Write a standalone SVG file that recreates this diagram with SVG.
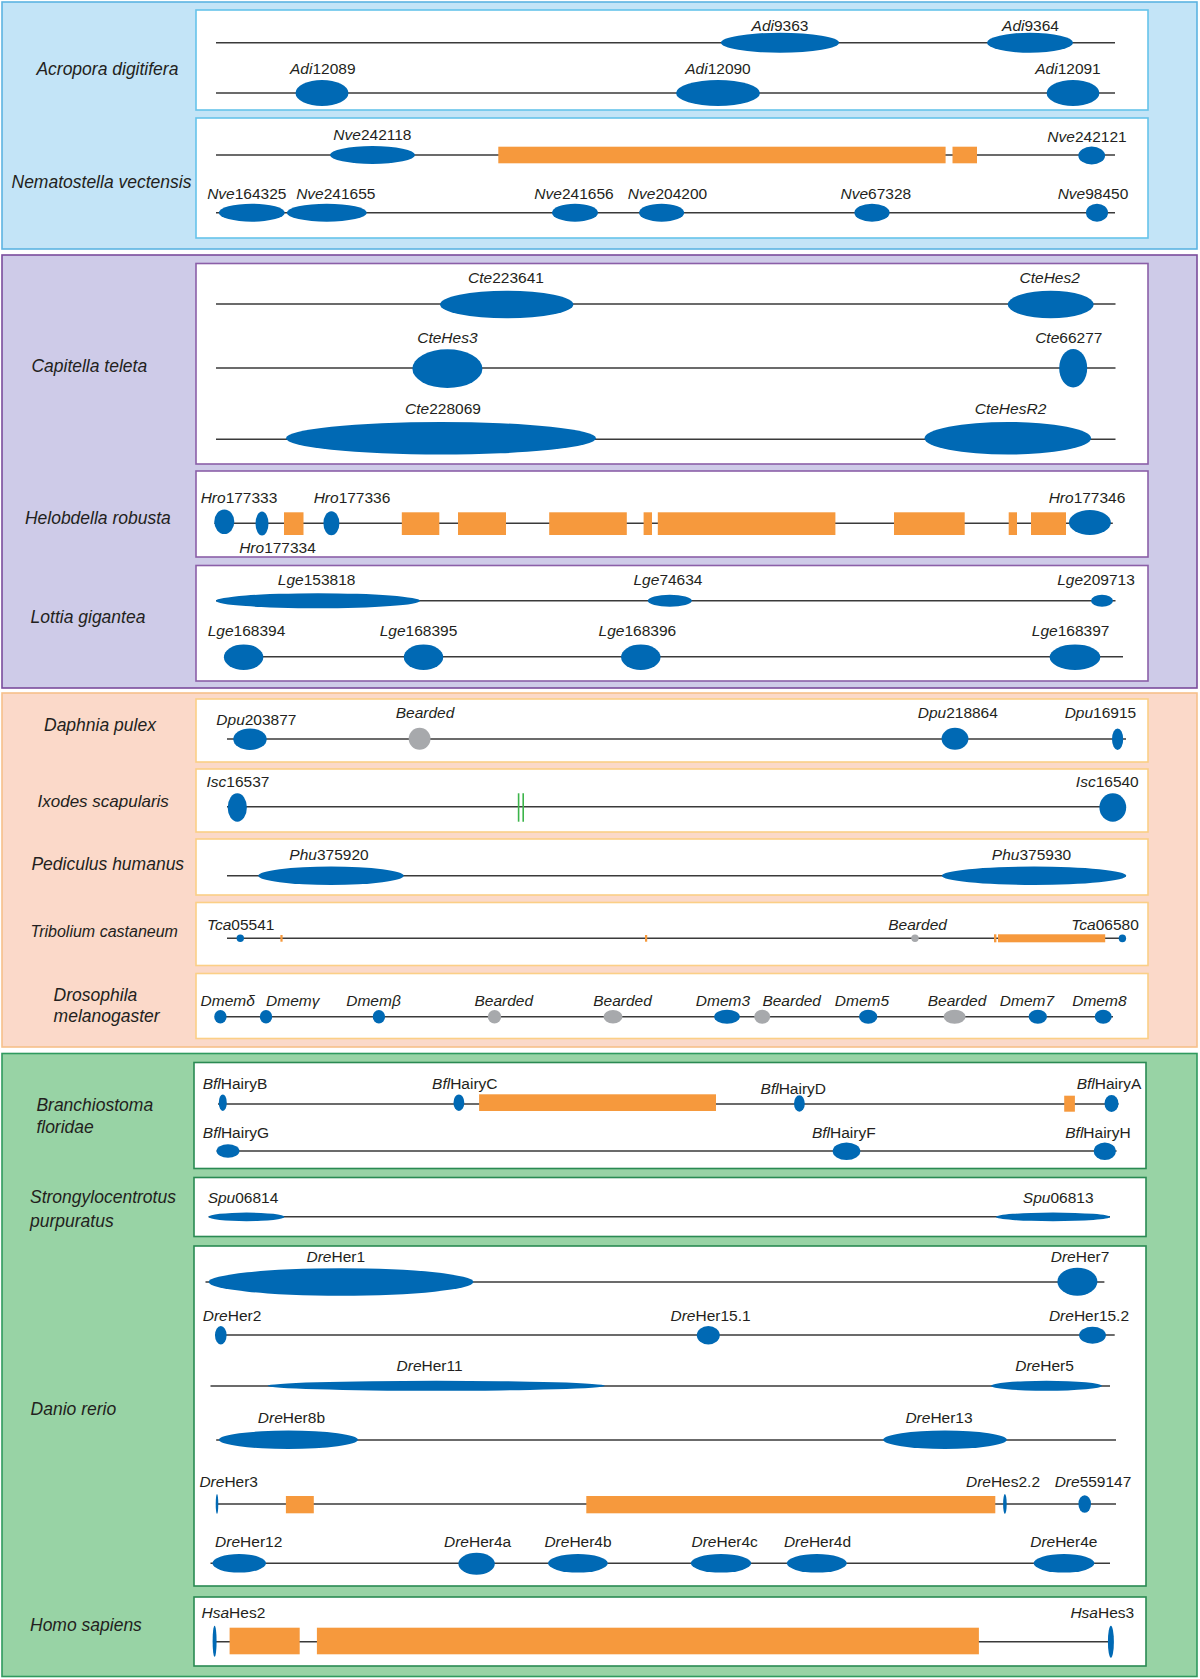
<svg xmlns="http://www.w3.org/2000/svg" width="1200" height="1679" viewBox="0 0 1200 1679">
<style>
text{font-family:"Liberation Sans",Arial,sans-serif;fill:#231f20}
.l{font-size:15.5px;text-anchor:middle}
.sp{font-size:17.5px;font-style:italic}
i,.it{font-style:italic}
.b{fill:#0069b4}
.o{fill:#f6993d}
.gr{fill:#a7a9ac}
.ln{stroke:#3a3a3a;stroke-width:1.4;fill:none}
.p1{fill:#c3e4f7;stroke:#5cb3e1;stroke-width:1.6}
.i1{fill:#fff;stroke:#66c3ea;stroke-width:1.6}
.p2{fill:#cecbe8;stroke:#7b4c9c;stroke-width:1.6}
.i2{fill:#fff;stroke:#8b5fa8;stroke-width:1.6}
.p3{fill:#fbd9c9;stroke:#f7c08a;stroke-width:1.6}
.i3{fill:#fff;stroke:#fbcf86;stroke-width:1.6}
.p4{fill:#98d3a5;stroke:#2f9a5e;stroke-width:1.6}
.i4{fill:#fff;stroke:#2a8a53;stroke-width:1.6}
</style>
<g id="panels">
<rect class="p1" x="2" y="2" width="1195" height="247"/>
<rect class="i1" x="196" y="10" width="952" height="100"/>
<rect class="i1" x="196" y="118" width="952" height="120"/>
<rect class="p2" x="2" y="255" width="1195" height="433"/>
<rect class="i2" x="196" y="263.5" width="952" height="200.5"/>
<rect class="i2" x="196" y="471" width="952" height="86"/>
<rect class="i2" x="196" y="565.5" width="952" height="115.5"/>
<rect class="p3" x="2" y="693" width="1195" height="354"/>
<rect class="i3" x="196" y="699" width="952" height="63"/>
<rect class="i3" x="196" y="769" width="952" height="63"/>
<rect class="i3" x="196" y="839" width="952" height="56"/>
<rect class="i3" x="196" y="902.5" width="952" height="63"/>
<rect class="i3" x="196" y="973.5" width="952" height="65"/>
<rect class="p4" x="2" y="1053.5" width="1195" height="623"/>
<rect class="i4" x="194" y="1062.5" width="952" height="106"/>
<rect class="i4" x="194" y="1177.5" width="952" height="59"/>
<rect class="i4" x="194" y="1246" width="952" height="340"/>
<rect class="i4" x="194" y="1597" width="952" height="69"/>
</g>
<g id="species">
<text class="sp" x="36.4" y="75.3">Acropora digitifera</text>
<text class="sp" x="11.5" y="187.7">Nematostella vectensis</text>
<text class="sp" x="31.4" y="372">Capitella teleta</text>
<text class="sp" x="24.9" y="524">Helobdella robusta</text>
<text class="sp" x="30.6" y="623">Lottia gigantea</text>
<text class="sp" x="44" y="731">Daphnia pulex</text>
<text class="sp" x="37.5" y="806.7" style="font-size:17px">Ixodes scapularis</text>
<text class="sp" x="31.4" y="870">Pediculus humanus</text>
<text class="sp" x="30.6" y="936.7" style="font-size:16px">Tribolium castaneum</text>
<text class="sp" x="53.6" y="1000.7">Drosophila</text>
<text class="sp" x="53.6" y="1022.3">melanogaster</text>
<text class="sp" x="36.4" y="1110.7">Branchiostoma</text>
<text class="sp" x="36.4" y="1133.3">floridae</text>
<text class="sp" x="30" y="1203.3">Strongylocentrotus</text>
<text class="sp" x="30" y="1226.7">purpuratus</text>
<text class="sp" x="30.6" y="1415">Danio rerio</text>
<text class="sp" x="30" y="1630.7">Homo sapiens</text>
</g>
<g id="connectors" class="ln">
<line x1="216" y1="42.7" x2="1115" y2="42.7"/>
<line x1="216" y1="93" x2="1115" y2="93"/>
<line x1="216" y1="155" x2="1115" y2="155"/>
<line x1="216" y1="212.7" x2="1115" y2="212.7"/>
<line x1="216" y1="304" x2="1115.5" y2="304"/>
<line x1="216" y1="368" x2="1115.5" y2="368"/>
<line x1="216" y1="439.3" x2="1115.5" y2="439.3"/>
<line x1="214.3" y1="523.3" x2="1112.8" y2="523.3"/>
<line x1="216" y1="600.7" x2="1115.5" y2="600.7"/>
<line x1="224" y1="656.7" x2="1123" y2="656.7"/>
<line x1="227" y1="739" x2="1126" y2="739"/>
<line x1="227" y1="806.7" x2="1126" y2="806.7"/>
<line x1="227" y1="875.7" x2="1126" y2="875.7"/>
<line x1="227" y1="938.3" x2="1122" y2="938.3"/>
<line x1="216" y1="1016.7" x2="1113" y2="1016.7"/>
<line x1="218" y1="1104" x2="1118.6" y2="1104"/>
<line x1="216.6" y1="1151" x2="1116.6" y2="1151"/>
<line x1="208.6" y1="1216.7" x2="1110" y2="1216.7"/>
<line x1="205.5" y1="1282" x2="1104.4" y2="1282"/>
<line x1="215" y1="1335" x2="1114.7" y2="1335"/>
<line x1="210.5" y1="1386" x2="1110" y2="1386"/>
<line x1="216.2" y1="1440" x2="1116" y2="1440"/>
<line x1="216.6" y1="1504" x2="1116" y2="1504"/>
<line x1="210.5" y1="1563.3" x2="1110" y2="1563.3"/>
<line x1="215" y1="1641.7" x2="1111" y2="1641.7"/>
</g>
<g id="blocks">
<rect class="o" x="498.3" y="146.7" width="447.3" height="16.6"/>
<rect class="o" x="952.5" y="146.7" width="24.5" height="16.6"/>
<rect class="o" x="284" y="512.3" width="19.5" height="22.7"/>
<rect class="o" x="401.8" y="512.3" width="37.5" height="22.7"/>
<rect class="o" x="458" y="512.3" width="48" height="22.7"/>
<rect class="o" x="549.2" y="512.3" width="77.6" height="22.7"/>
<rect class="o" x="643.6" y="512.3" width="8.4" height="22.7"/>
<rect class="o" x="657.8" y="512.3" width="177.6" height="22.7"/>
<rect class="o" x="894" y="512.3" width="70.7" height="22.7"/>
<rect class="o" x="1008.7" y="512.3" width="8.3" height="22.7"/>
<rect class="o" x="1031" y="512.3" width="35" height="22.7"/>
<rect class="o" x="280.4" y="935" width="2.2" height="6.7"/>
<rect class="o" x="645" y="935" width="2.2" height="6.7"/>
<rect class="o" x="994" y="934.3" width="2.4" height="8"/>
<rect class="o" x="998" y="934.3" width="107.2" height="8"/>
<rect class="o" x="479.1" y="1094.3" width="236.9" height="16.7"/>
<rect class="o" x="1064.2" y="1095.7" width="10.7" height="16"/>
<rect class="o" x="285.9" y="1496" width="27.9" height="17.3"/>
<rect class="o" x="586.3" y="1496" width="409" height="17.3"/>
<rect class="o" x="229.6" y="1627.7" width="70.1" height="26.6"/>
<rect class="o" x="316.9" y="1627.7" width="662" height="26.6"/>
<line x1="518.6" y1="793.3" x2="518.6" y2="821.7" stroke="#3cb44a" stroke-width="1.6"/>
<line x1="523.2" y1="793.3" x2="523.2" y2="821.7" stroke="#3cb44a" stroke-width="1.6"/>
</g>
<g id="genes">
<g id="Adi9363"><ellipse class="b" cx="780" cy="42.7" rx="59" ry="10"/><text class="l" x="780" y="30.7"><tspan class="it">Adi</tspan>9363</text></g>
<g id="Adi9364"><ellipse class="b" cx="1030" cy="42.7" rx="43" ry="10"/><text class="l" x="1030.5" y="30.7"><tspan class="it">Adi</tspan>9364</text></g>
<g id="Adi12089"><ellipse class="b" cx="322" cy="93" rx="26.5" ry="13"/><text class="l" x="322.8" y="74"><tspan class="it">Adi</tspan>12089</text></g>
<g id="Adi12090"><ellipse class="b" cx="718" cy="93" rx="42" ry="13"/><text class="l" x="718" y="74"><tspan class="it">Adi</tspan>12090</text></g>
<g id="Adi12091"><ellipse class="b" cx="1073" cy="93" rx="26.4" ry="13"/><text class="l" x="1068" y="74"><tspan class="it">Adi</tspan>12091</text></g>
<g id="Nve242118"><ellipse class="b" cx="372.5" cy="155" rx="42.5" ry="9"/><text class="l" x="372.4" y="140"><tspan class="it">Nve</tspan>242118</text></g>
<g id="Nve242121"><ellipse class="b" cx="1091.7" cy="155.5" rx="13.4" ry="9"/><text class="l" x="1087" y="141.7"><tspan class="it">Nve</tspan>242121</text></g>
<g id="Nve164325"><ellipse class="b" cx="251.8" cy="212.7" rx="33" ry="9"/><text class="l" x="246.8" y="199.3"><tspan class="it">Nve</tspan>164325</text></g>
<g id="Nve241655"><ellipse class="b" cx="326.8" cy="212.7" rx="40" ry="9"/><text class="l" x="335.8" y="199.3"><tspan class="it">Nve</tspan>241655</text></g>
<g id="Nve241656"><ellipse class="b" cx="575" cy="212.7" rx="23" ry="9"/><text class="l" x="574" y="199.3"><tspan class="it">Nve</tspan>241656</text></g>
<g id="Nve204200"><ellipse class="b" cx="661.6" cy="212.7" rx="22.6" ry="9"/><text class="l" x="667.5" y="199.3"><tspan class="it">Nve</tspan>204200</text></g>
<g id="Nve67328"><ellipse class="b" cx="872" cy="212.7" rx="17.6" ry="9"/><text class="l" x="875.8" y="199.3"><tspan class="it">Nve</tspan>67328</text></g>
<g id="Nve98450"><ellipse class="b" cx="1097" cy="212.7" rx="11" ry="9"/><text class="l" x="1093" y="199.3"><tspan class="it">Nve</tspan>98450</text></g>
<g id="Cte223641"><ellipse class="b" cx="506.7" cy="304.5" rx="66.7" ry="13.8"/><text class="l" x="506" y="283.3"><tspan class="it">Cte</tspan>223641</text></g>
<g id="CteHes2"><ellipse class="b" cx="1050.7" cy="304.5" rx="43" ry="13.8"/><text class="l it" x="1049.7" y="283.3">CteHes2</text></g>
<g id="CteHes3"><ellipse class="b" cx="447.4" cy="368.7" rx="35" ry="19.4"/><text class="l it" x="447.4" y="342.7">CteHes3</text></g>
<g id="Cte66277"><ellipse class="b" cx="1073.2" cy="368.2" rx="14" ry="19.2"/><text class="l" x="1068.8" y="342.7"><tspan class="it">Cte</tspan>66277</text></g>
<g id="Cte228069"><ellipse class="b" cx="441" cy="438.3" rx="155" ry="16.3"/><text class="l" x="443" y="414.3"><tspan class="it">Cte</tspan>228069</text></g>
<g id="CteHesR2"><ellipse class="b" cx="1007.8" cy="438.3" rx="83.3" ry="16.3"/><text class="l it" x="1010.5" y="414.3">CteHesR2</text></g>
<g id="Hro177333"><ellipse class="b" cx="224.3" cy="521.7" rx="10" ry="12.3"/><text class="l" x="239" y="503.3"><tspan class="it">Hro</tspan>177333</text></g>
<g id="Hro177334"><ellipse class="b" cx="262" cy="523.5" rx="6.5" ry="12"/><text class="l" x="277.5" y="552.7"><tspan class="it">Hro</tspan>177334</text></g>
<g id="Hro177336"><ellipse class="b" cx="331.4" cy="523.3" rx="8" ry="12"/><text class="l" x="352" y="503.3"><tspan class="it">Hro</tspan>177336</text></g>
<g id="Hro177346"><ellipse class="b" cx="1089.9" cy="522.5" rx="21" ry="12.5"/><text class="l" x="1087" y="503.3"><tspan class="it">Hro</tspan>177346</text></g>
<g id="Lge153818"><ellipse class="b" cx="318" cy="600.8" rx="102" ry="7.5"/><text class="l" x="316.6" y="585"><tspan class="it">Lge</tspan>153818</text></g>
<g id="Lge74634"><ellipse class="b" cx="669.8" cy="600.8" rx="22" ry="6"/><text class="l" x="668" y="585"><tspan class="it">Lge</tspan>74634</text></g>
<g id="Lge209713"><ellipse class="b" cx="1102" cy="600.8" rx="11" ry="6"/><text class="l" x="1096" y="585"><tspan class="it">Lge</tspan>209713</text></g>
<g id="Lge168394"><ellipse class="b" cx="243.6" cy="657.2" rx="19.7" ry="12.8"/><text class="l" x="246.5" y="635.7"><tspan class="it">Lge</tspan>168394</text></g>
<g id="Lge168395"><ellipse class="b" cx="423.5" cy="657.2" rx="19.7" ry="12.8"/><text class="l" x="418.5" y="635.7"><tspan class="it">Lge</tspan>168395</text></g>
<g id="Lge168396"><ellipse class="b" cx="640.8" cy="657.2" rx="19.7" ry="12.8"/><text class="l" x="637.4" y="635.7"><tspan class="it">Lge</tspan>168396</text></g>
<g id="Lge168397"><ellipse class="b" cx="1075" cy="657.2" rx="25.3" ry="12.8"/><text class="l" x="1070.6" y="635.7"><tspan class="it">Lge</tspan>168397</text></g>
<g id="Dpu203877"><ellipse class="b" cx="250" cy="739.2" rx="16.7" ry="10.8"/><text class="l" x="256.4" y="725"><tspan class="it">Dpu</tspan>203877</text></g>
<g id="Bearded-Dpu"><ellipse class="gr" cx="419.6" cy="738.8" rx="10.9" ry="11"/><text class="l it" x="425" y="718.3">Bearded</text></g>
<g id="Dpu218864"><ellipse class="b" cx="955" cy="738.8" rx="13.4" ry="11"/><text class="l" x="957.8" y="718.3"><tspan class="it">Dpu</tspan>218864</text></g>
<g id="Dpu16915"><ellipse class="b" cx="1117.6" cy="739.2" rx="5.6" ry="10.8"/><text class="l" x="1100.4" y="718.3"><tspan class="it">Dpu</tspan>16915</text></g>
<g id="Isc16537"><ellipse class="b" cx="237.3" cy="807.5" rx="9.6" ry="14.2"/><text class="l" x="238" y="786.7"><tspan class="it">Isc</tspan>16537</text></g>
<g id="Isc16540"><ellipse class="b" cx="1112.8" cy="807.5" rx="13.4" ry="14.2"/><text class="l" x="1107.3" y="786.7"><tspan class="it">Isc</tspan>16540</text></g>
<g id="Phu375920"><ellipse class="b" cx="331" cy="875.8" rx="72.7" ry="9.2"/><text class="l" x="329" y="860"><tspan class="it">Phu</tspan>375920</text></g>
<g id="Phu375930"><ellipse class="b" cx="1034" cy="875.8" rx="92.2" ry="9.2"/><text class="l" x="1031.5" y="860"><tspan class="it">Phu</tspan>375930</text></g>
<g id="Tca05541"><ellipse class="b" cx="240.3" cy="938.3" rx="3.7" ry="3.7"/><text class="l" x="240.7" y="930"><tspan class="it">Tca</tspan>05541</text></g>
<g id="Bearded-Tca"><ellipse class="gr" cx="915" cy="938.3" rx="3.7" ry="3.7"/><text class="l it" x="917.6" y="930">Bearded</text></g>
<g id="Tca06580"><ellipse class="b" cx="1122.4" cy="938.3" rx="3.7" ry="3.9"/><text class="l" x="1105" y="930"><tspan class="it">Tca</tspan>06580</text></g>
<g id="Dmem-delta"><ellipse class="b" cx="220.4" cy="1016.7" rx="6.2" ry="6.8"/><text class="l it" x="227.7" y="1006">Dmemδ</text></g>
<g id="Dmem-gamma"><ellipse class="b" cx="266" cy="1016.7" rx="6.2" ry="6.8"/><text class="l it" x="292.8" y="1006">Dmemγ</text></g>
<g id="Dmem-beta"><ellipse class="b" cx="378.9" cy="1016.7" rx="6.2" ry="6.8"/><text class="l it" x="373.5" y="1006">Dmemβ</text></g>
<g id="Bearded-Dm1"><ellipse class="gr" cx="494.5" cy="1016.7" rx="6.7" ry="6.8"/><text class="l it" x="503.8" y="1006">Bearded</text></g>
<g id="Bearded-Dm2"><ellipse class="gr" cx="613" cy="1016.7" rx="9.5" ry="6.8"/><text class="l it" x="622.5" y="1006">Bearded</text></g>
<g id="Dmem3"><ellipse class="b" cx="727" cy="1016.7" rx="12.8" ry="7"/><text class="l it" x="723" y="1006">Dmem3</text></g>
<g id="Bearded-Dm3"><ellipse class="gr" cx="762.2" cy="1016.7" rx="8" ry="7"/><text class="l it" x="791.7" y="1006">Bearded</text></g>
<g id="Dmem5"><ellipse class="b" cx="868.2" cy="1016.7" rx="9.2" ry="7"/><text class="l it" x="862" y="1006">Dmem5</text></g>
<g id="Bearded-Dm4"><ellipse class="gr" cx="954.6" cy="1016.7" rx="11" ry="7"/><text class="l it" x="957" y="1006">Bearded</text></g>
<g id="Dmem7"><ellipse class="b" cx="1037.8" cy="1016.7" rx="9.2" ry="7"/><text class="l it" x="1027" y="1006">Dmem7</text></g>
<g id="Dmem8"><ellipse class="b" cx="1103.2" cy="1016.7" rx="8.5" ry="7"/><text class="l it" x="1099.4" y="1006">Dmem8</text></g>
<g id="BflHairyB"><ellipse class="b" cx="222.8" cy="1102.7" rx="4" ry="8.3"/><text class="l" x="235" y="1089"><tspan class="it">Bfl</tspan>HairyB</text></g>
<g id="BflHairyC"><ellipse class="b" cx="458.9" cy="1102.7" rx="5.4" ry="8.3"/><text class="l" x="464.8" y="1089"><tspan class="it">Bfl</tspan>HairyC</text></g>
<g id="BflHairyD"><ellipse class="b" cx="799.4" cy="1103.5" rx="5.4" ry="8.3"/><text class="l" x="793.3" y="1094.3"><tspan class="it">Bfl</tspan>HairyD</text></g>
<g id="BflHairyA"><ellipse class="b" cx="1111.5" cy="1103.5" rx="7" ry="8.5"/><text class="l" x="1109" y="1089"><tspan class="it">Bfl</tspan>HairyA</text></g>
<g id="BflHairyG"><ellipse class="b" cx="228" cy="1151" rx="11.5" ry="6.8"/><text class="l" x="236" y="1137.7"><tspan class="it">Bfl</tspan>HairyG</text></g>
<g id="BflHairyF"><ellipse class="b" cx="846.5" cy="1151.2" rx="13.8" ry="8.8"/><text class="l" x="843.8" y="1137.7"><tspan class="it">Bfl</tspan>HairyF</text></g>
<g id="BflHairyH"><ellipse class="b" cx="1104.8" cy="1151.2" rx="11" ry="8.8"/><text class="l" x="1098" y="1137.7"><tspan class="it">Bfl</tspan>HairyH</text></g>
<g id="Spu06814"><ellipse class="b" cx="246.5" cy="1216.9" rx="37.9" ry="4.3"/><text class="l" x="243" y="1203.3"><tspan class="it">Spu</tspan>06814</text></g>
<g id="Spu06813"><ellipse class="b" cx="1053" cy="1216.9" rx="57" ry="4.3"/><text class="l" x="1058.2" y="1203.3"><tspan class="it">Spu</tspan>06813</text></g>
<g id="DreHer1"><ellipse class="b" cx="341" cy="1282" rx="132.4" ry="13.7"/><text class="l" x="335.8" y="1262.3"><tspan class="it">Dre</tspan>Her1</text></g>
<g id="DreHer7"><ellipse class="b" cx="1077.4" cy="1281.7" rx="20" ry="14"/><text class="l" x="1080" y="1262.3"><tspan class="it">Dre</tspan>Her7</text></g>
<g id="DreHer2"><ellipse class="b" cx="220.8" cy="1335.2" rx="5.8" ry="9.2"/><text class="l" x="232" y="1321"><tspan class="it">Dre</tspan>Her2</text></g>
<g id="DreHer15.1"><ellipse class="b" cx="708.3" cy="1335.2" rx="11.5" ry="9.2"/><text class="l" x="710.6" y="1321"><tspan class="it">Dre</tspan>Her15.1</text></g>
<g id="DreHer15.2"><ellipse class="b" cx="1092.5" cy="1335.2" rx="13.4" ry="8.5"/><text class="l" x="1089" y="1321"><tspan class="it">Dre</tspan>Her15.2</text></g>
<g id="DreHer11"><ellipse class="b" cx="436.2" cy="1385.8" rx="168.6" ry="5"/><text class="l" x="429.6" y="1370.7"><tspan class="it">Dre</tspan>Her11</text></g>
<g id="DreHer5"><ellipse class="b" cx="1046.5" cy="1385.8" rx="55.5" ry="5"/><text class="l" x="1044.5" y="1370.7"><tspan class="it">Dre</tspan>Her5</text></g>
<g id="DreHer8b"><ellipse class="b" cx="288.4" cy="1439.8" rx="69.5" ry="9.2"/><text class="l" x="291.4" y="1423.3"><tspan class="it">Dre</tspan>Her8b</text></g>
<g id="DreHer13"><ellipse class="b" cx="945" cy="1439.8" rx="61.8" ry="9.2"/><text class="l" x="939" y="1423.3"><tspan class="it">Dre</tspan>Her13</text></g>
<g id="DreHer3"><ellipse class="b" cx="217" cy="1504" rx="1.3" ry="10"/><text class="l" x="228.7" y="1486.7"><tspan class="it">Dre</tspan>Her3</text></g>
<g id="DreHes2.2"><ellipse class="b" cx="1004.9" cy="1504" rx="1.8" ry="10"/><text class="l" x="1003" y="1486.7"><tspan class="it">Dre</tspan>Hes2.2</text></g>
<g id="Dre559147"><ellipse class="b" cx="1084.7" cy="1504" rx="6.3" ry="8.7"/><text class="l" x="1093" y="1486.7"><tspan class="it">Dre</tspan>559147</text></g>
<g id="DreHer12"><ellipse class="b" cx="239.2" cy="1563.3" rx="26.8" ry="9.3"/><text class="l" x="248.7" y="1546.7"><tspan class="it">Dre</tspan>Her12</text></g>
<g id="DreHer4a"><ellipse class="b" cx="476.6" cy="1563.8" rx="18.2" ry="11"/><text class="l" x="477.6" y="1546.7"><tspan class="it">Dre</tspan>Her4a</text></g>
<g id="DreHer4b"><ellipse class="b" cx="577.9" cy="1563.3" rx="29.9" ry="9.3"/><text class="l" x="578" y="1546.7"><tspan class="it">Dre</tspan>Her4b</text></g>
<g id="DreHer4c"><ellipse class="b" cx="721" cy="1563.3" rx="30.2" ry="9.3"/><text class="l" x="724.7" y="1546.7"><tspan class="it">Dre</tspan>Her4c</text></g>
<g id="DreHer4d"><ellipse class="b" cx="816.8" cy="1563.3" rx="30" ry="9.3"/><text class="l" x="817.5" y="1546.7"><tspan class="it">Dre</tspan>Her4d</text></g>
<g id="DreHer4e"><ellipse class="b" cx="1064" cy="1563.3" rx="30.4" ry="9.3"/><text class="l" x="1063.8" y="1546.7"><tspan class="it">Dre</tspan>Her4e</text></g>
<g id="HsaHes2"><ellipse class="b" cx="214.6" cy="1641.2" rx="2" ry="15.5"/><text class="l" x="233.4" y="1618.3"><tspan class="it">Hsa</tspan>Hes2</text></g>
<g id="HsaHes3"><ellipse class="b" cx="1110.9" cy="1641.7" rx="3" ry="16"/><text class="l" x="1102.3" y="1618.3"><tspan class="it">Hsa</tspan>Hes3</text></g>
</g>
</svg>
